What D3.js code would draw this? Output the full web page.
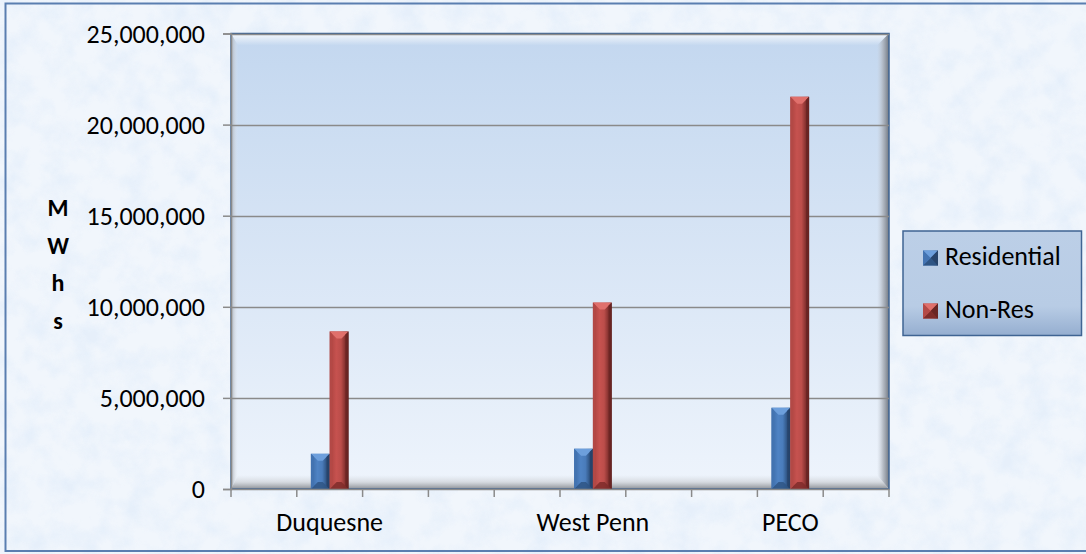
<!DOCTYPE html>
<html>
<head>
<meta charset="utf-8">
<script src="https://cdn.jsdelivr.net/npm/d3@7"></script>
<style>
  html, body { margin: 0; padding: 0; background: #fff; }
  svg { display: block; }
  text { font-family: Carlito, Calibri, Lato, "Liberation Sans", sans-serif; }
</style>
</head>
<body>
<div id="chart"></div>
<script>
// ---- data ----
const categories = ["", "Duquesne", "", "", "", "West Penn", "", "", "PECO", ""];
const seriesNames = ["Residential", "Non-Res"];
const residential = [null, 1930000, null, null, null, 2210000, null, null, 4460000, null];
const nonRes = [null, 8650000, null, null, null, 10230000, null, null, 21530000, null];
const yTicks = [0, 5000000, 10000000, 15000000, 20000000, 25000000];
const yTitleLetters = ["M", "W", "h", "s"];

// ---- layout ----
const W = 1086, H = 554;
const plot = { left: 231, right: 889, top: 33.5, bottom: 489 };
const FS = 26;

const svg = d3.select("#chart").append("svg").attr("width", W).attr("height", H);
const defs = svg.append("defs");

// textured background
const f = defs.append("filter").attr("id", "tex").attr("x", 0).attr("y", 0).attr("width", 1).attr("height", 1);
f.append("feTurbulence").attr("type", "fractalNoise").attr("baseFrequency", "0.04").attr("numOctaves", 4).attr("seed", 7).attr("result", "n");
f.append("feColorMatrix").attr("in", "n").attr("type", "matrix")
  .attr("values", "0 0 0 0 0.78  0 0 0 0 0.86  0 0 0 0 0.96  2.2 0 0 0 -0.85");

function lin(id, dir, stops) {
  const g = defs.append("linearGradient").attr("id", id);
  if (dir === "v") g.attr("x1", 0).attr("y1", 0).attr("x2", 0).attr("y2", 1);
  else g.attr("x1", 0).attr("y1", 0).attr("x2", 1).attr("y2", 0);
  stops.forEach(s => g.append("stop").attr("offset", s[0]).attr("stop-color", s[1]).attr("stop-opacity", s[2] == null ? 1 : s[2]));
}
lin("plotBg", "v", [[0, "#c3d7ef"], [1, "#eef4fc"]]);
lin("bevTop", "v", [[0, "#ffffff", 0.85], [1, "#ffffff", 0.0]]);
lin("bevBot", "v", [[0, "#d8dde3", 0.0], [0.5, "#d0d4d9", 0.8], [1, "#8c9096", 1]]);
lin("bevRight", "h", [[0, "#c9ced6", 0.0], [0.5, "#a9afb8", 0.8], [1, "#6f7680", 1]]);
lin("bevLeft", "h", [[0, "#a7adb5", 1], [1, "#e6e9ee", 0]]);
lin("legBg", "v", [[0, "#bccfe7"], [0.72, "#b8cce5"], [1, "#95aed0"]]);
lin("barBlue", "h", [[0, "#3b6aa6"], [0.35, "#4f83c4"], [0.6, "#4a7cbb"], [0.8, "#33598a"], [1, "#1d3352"]]);
lin("barRed", "h", [[0, "#a9423f"], [0.35, "#c6524f"], [0.6, "#bb4d4a"], [0.8, "#8a3432"], [1, "#4d1a19"]]);

// background
svg.append("rect").attr("width", W).attr("height", H).attr("fill", "#f1f6fc");
svg.append("rect").attr("width", W).attr("height", H).attr("filter", "url(#tex)").attr("opacity", 0.9);
// outer border
svg.append("rect").attr("x", 5.5).attr("y", 3.5).attr("width", W + 10).attr("height", 547.5)
  .attr("fill", "none").attr("stroke", "#5a7eb0").attr("stroke-width", 2);

// ---- scales ----
const x = d3.scaleBand().domain(d3.range(categories.length)).range([plot.left, plot.right]);
const xs = d3.scaleBand().domain(seriesNames).range([0, x.bandwidth()]).paddingInner(0).paddingOuter(0.75);
const y = d3.scaleLinear().domain([0, 25000000]).range([plot.bottom, plot.top]);

// plot area with bevel frame
const pw = plot.right - plot.left, ph = plot.bottom - plot.top;
const L = plot.left, R = plot.right, T = plot.top, B = plot.bottom;
const bt = 12, bb = 14, br = 12, bl = 7;
svg.append("rect").attr("x", L).attr("y", T).attr("width", pw).attr("height", ph).attr("fill", "url(#plotBg)");
svg.append("polygon").attr("points", [[L, T], [R, T], [R - br, T + bt], [L + bl, T + bt]].join(" ")).attr("fill", "url(#bevTop)");
svg.append("polygon").attr("points", [[L, B], [R, B], [R - br, B - bb], [L + bl, B - bb]].join(" ")).attr("fill", "url(#bevBot)");
svg.append("polygon").attr("points", [[R, T], [R, B], [R - br, B - bb], [R - br, T + bt]].join(" ")).attr("fill", "url(#bevRight)");
svg.append("polygon").attr("points", [[L, T], [L, B], [L + bl, B - bb], [L + bl, T + bt]].join(" ")).attr("fill", "url(#bevLeft)");
svg.append("rect").attr("x", L).attr("y", T).attr("width", pw).attr("height", ph)
  .attr("fill", "none").attr("stroke", "#3f6493").attr("stroke-width", 1.5);

// gridlines
svg.append("g").selectAll("line").data(yTicks.filter(d => d > 0)).join("line")
  .attr("x1", L).attr("x2", R).attr("y1", d => Math.round(y(d)) + 0.5).attr("y2", d => Math.round(y(d)) + 0.5)
  .attr("stroke", "#8a8a8a").attr("stroke-width", 1.5);

// ---- bars ----
const rows = categories.map((c, i) => ({ i, vals: [residential[i], nonRes[i]] }));
const colors = {
  "Residential": { grad: "url(#barBlue)", top: "#6d9fdc", bot: "#2f5584", left: "#4474b2", right: "#27446b" },
  "Non-Res": { grad: "url(#barRed)", top: "#e0706c", bot: "#7e2c2a", left: "#b44a47", right: "#6a2524" }
};
const barG = svg.append("g");
rows.forEach(r => {
  seriesNames.forEach((s, k) => {
    const v = r.vals[k];
    if (v == null) return;
    const x0 = x(r.i) + xs(s), w = xs.bandwidth(), x1 = x0 + w;
    const y0 = y(v), y1 = y(0);
    const c = colors[s];
    const b = Math.min(w / 2 - 1, 7);
    const g = barG.append("g");
    g.append("rect").attr("x", x0).attr("y", y0).attr("width", w).attr("height", y1 - y0).attr("fill", c.grad);
    g.append("polygon").attr("points", [[x0, y0], [x1, y0], [x1 - b, y0 + b], [x0 + b, y0 + b]].join(" ")).attr("fill", c.top);
    g.append("polygon").attr("points", [[x0, y1], [x1, y1], [x1 - b, y1 - b], [x0 + b, y1 - b]].join(" ")).attr("fill", c.bot).attr("opacity", 0.85);
    g.append("polygon").attr("points", [[x0, y0], [x0 + 2.5, y0 + 2.5], [x0 + 2.5, y1 - 2.5], [x0, y1]].join(" ")).attr("fill", c.left).attr("opacity", 0.8);
    g.append("polygon").attr("points", [[x1, y0], [x1 - 3, y0 + 3], [x1 - 3, y1 - 3], [x1, y1]].join(" ")).attr("fill", c.right).attr("opacity", 0.9);
  });
});

// ---- axes ----
const yAxis = svg.append("g").attr("transform", `translate(${L},0)`)
  .call(d3.axisLeft(y).tickValues(yTicks).tickFormat(d3.format(",")).tickSize(8).tickPadding(18));
yAxis.select(".domain").attr("stroke", "#8a8a8a").attr("stroke-width", 1.5);
yAxis.selectAll(".tick line").attr("stroke", "#8a8a8a").attr("stroke-width", 1.5);
yAxis.selectAll(".tick text").attr("font-size", FS).attr("fill", "#000").attr("dy", "0.33em");

const xAxisG = svg.append("g");
xAxisG.append("line").attr("x1", L).attr("x2", R).attr("y1", B + 0.5).attr("y2", B + 0.5)
  .attr("stroke", "#8a8a8a").attr("stroke-width", 1.5);
const bounds = d3.range(categories.length + 1).map(i => i < categories.length ? x(i) : x(i - 1) + x.bandwidth());
xAxisG.selectAll("line.tk").data(bounds).join("line").attr("class", "tk")
  .attr("x1", d => d).attr("x2", d => d).attr("y1", B).attr("y2", B + 8)
  .attr("stroke", "#8a8a8a").attr("stroke-width", 1.5);
xAxisG.selectAll("text").data(categories).join("text")
  .attr("x", (d, i) => x(i) + x.bandwidth() / 2).attr("y", 531)
  .attr("text-anchor", "middle").attr("font-size", FS).attr("fill", "#000").text(d => d);

// y-axis title (stacked letters)
svg.append("g").selectAll("text").data(yTitleLetters).join("text")
  .attr("x", 58).attr("y", (d, i) => 216 + i * 37.7)
  .attr("text-anchor", "middle").attr("font-size", 24).attr("font-weight", "bold").attr("fill", "#000").text(d => d);

// ---- legend ----
const lg = svg.append("g");
lg.append("rect").attr("x", 903).attr("y", 231).attr("width", 178.5).attr("height", 104.5)
  .attr("fill", "url(#legBg)").attr("stroke", "#3f6493").attr("stroke-width", 1.5);
seriesNames.forEach((s, k) => {
  const cy = 258 + k * 53;
  const sx = 923, sz = 15, sy = cy - sz / 2;
  const c = colors[s];
  const cx = sx + sz / 2;
  const g = lg.append("g");
  g.append("rect").attr("x", sx).attr("y", sy).attr("width", sz).attr("height", sz).attr("fill", c.grad);
  g.append("polygon").attr("points", [[sx, sy], [sx + sz, sy], [cx, cy]].join(" ")).attr("fill", c.top);
  g.append("polygon").attr("points", [[sx, sy + sz], [sx + sz, sy + sz], [cx, cy]].join(" ")).attr("fill", c.bot);
  g.append("polygon").attr("points", [[sx + sz, sy], [sx + sz, sy + sz], [cx, cy]].join(" ")).attr("fill", c.right);
  g.append("polygon").attr("points", [[sx, sy], [sx, sy + sz], [cx, cy]].join(" ")).attr("fill", c.left);
  g.append("text").attr("x", 945).attr("y", cy + 7).attr("font-size", FS).attr("fill", "#000").text(s);
});
</script>
</body>
</html>
